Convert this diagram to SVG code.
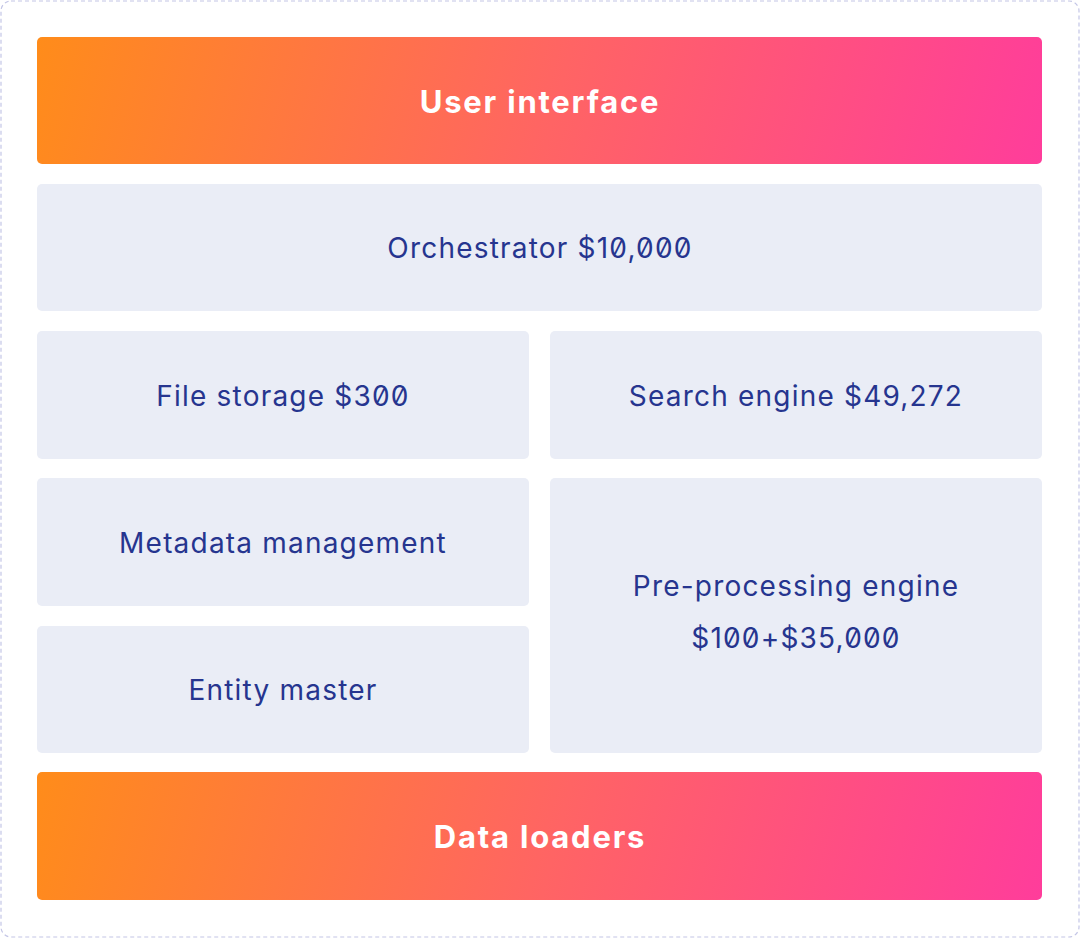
<svg xmlns="http://www.w3.org/2000/svg" width="1080" height="938" viewBox="0 0 1080 938">
<defs>
<linearGradient id="g2" x1="37" y1="37" x2="1042" y2="300" gradientUnits="userSpaceOnUse">
<stop offset="0" stop-color="#ff8c1a"/>
<stop offset="0.5" stop-color="#ff6464"/>
<stop offset="1" stop-color="#ff3a9f"/>
</linearGradient>
<linearGradient id="g3" x1="37" y1="772" x2="1042" y2="1035" gradientUnits="userSpaceOnUse">
<stop offset="0" stop-color="#ff8c1a"/>
<stop offset="0.5" stop-color="#ff6464"/>
<stop offset="1" stop-color="#ff3a9f"/>
</linearGradient>
</defs>
<style>
.box{fill:#eaedf6}
.t{font-family:Inter,"Liberation Sans",sans-serif;font-size:28px;letter-spacing:1.2px;fill:#26358f;text-anchor:middle;dominant-baseline:central;font-feature-settings:"zero" 1}
.h{font-family:Inter,"Liberation Sans",sans-serif;font-size:31px;letter-spacing:1.8px;font-weight:700;fill:#ffffff;text-anchor:middle;dominant-baseline:central}
</style>
<rect x="1" y="1" width="1078" height="936" rx="10" fill="#ffffff" stroke="#c4c6e6" stroke-width="1.2" stroke-dasharray="4 3"/>
<g id="ui"><rect x="37" y="37" width="1005" height="127" rx="5" fill="url(#g2)"/><text class="h" x="540" y="101">User interface</text></g>
<g id="orchestrator"><rect class="box" x="37" y="184" width="1005" height="127" rx="5"/><text class="t" x="540" y="248">Orchestrator $10,000</text></g>
<g id="filestorage"><rect class="box" x="37" y="331" width="492" height="128" rx="5"/><text class="t" x="283" y="396">File storage $300</text></g>
<g id="search"><rect class="box" x="550" y="331" width="492" height="128" rx="5"/><text class="t" x="796" y="396">Search engine $49,272</text></g>
<g id="metadata"><rect class="box" x="37" y="478" width="492" height="128" rx="5"/><text class="t" x="283" y="543">Metadata management</text></g>
<g id="entity"><rect class="box" x="37" y="626" width="492" height="127" rx="5"/><text class="t" x="283" y="690">Entity master</text></g>
<g id="preprocessing"><rect class="box" x="550" y="478" width="492" height="275" rx="5"/><text class="t" x="796" y="586">Pre-processing engine</text><text class="t" x="796" y="638">$100+$35,000</text></g>
<g id="dataloaders"><rect x="37" y="772" width="1005" height="128" rx="5" fill="url(#g3)"/><text class="h" x="540" y="836">Data loaders</text></g>
<g id="connectors"></g>
</svg>
